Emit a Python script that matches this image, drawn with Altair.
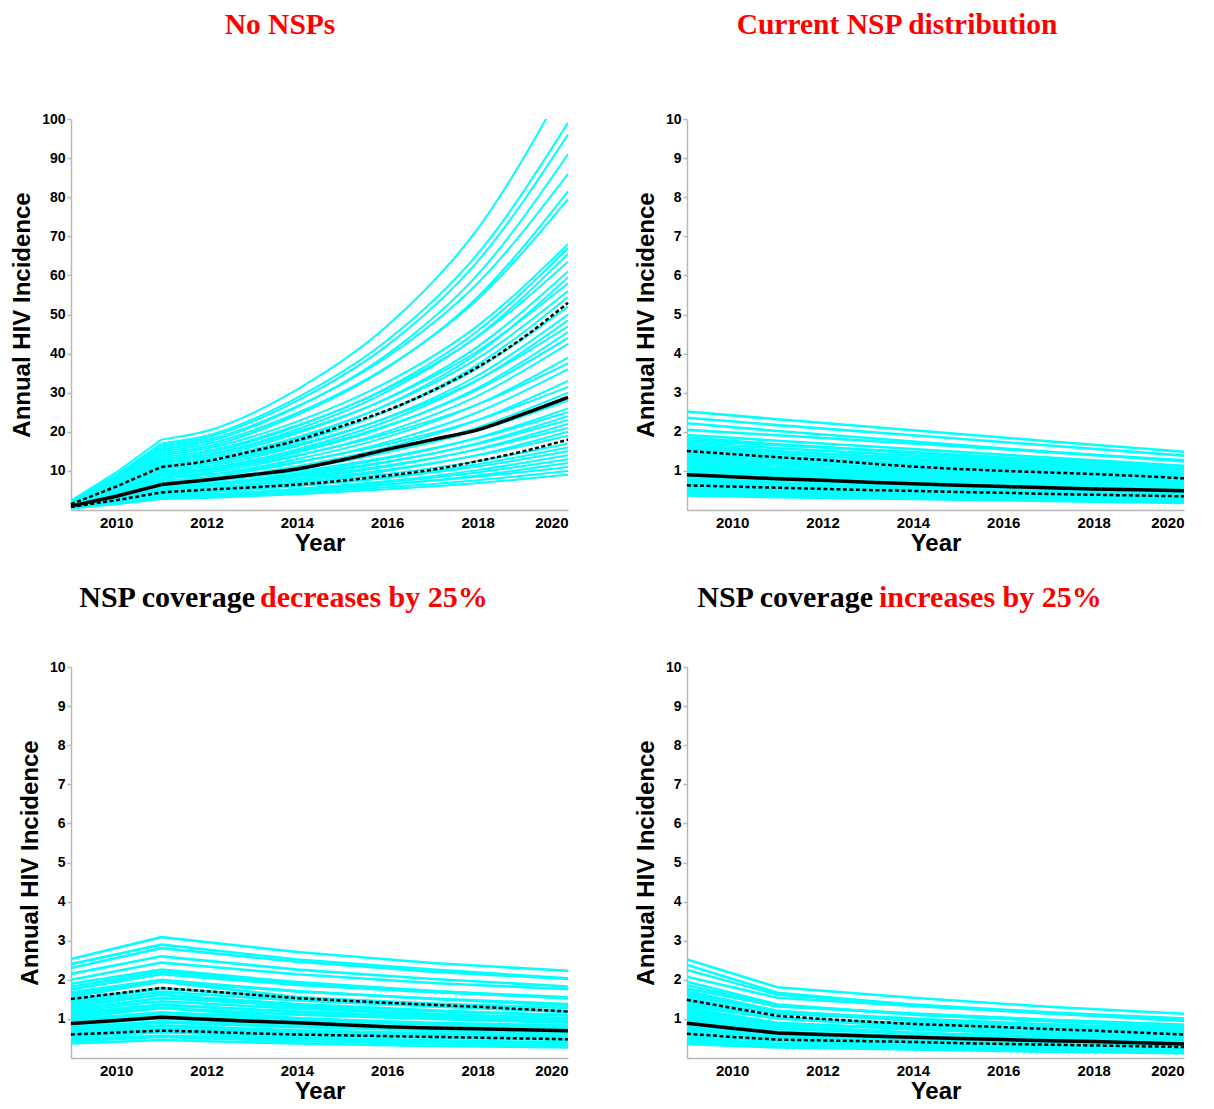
import altair as alt
import pandas as pd

# ---------------- data ----------------
YEARS_ANNUAL = list(range(2009, 2021))
YEARS_NO_NSP = [2009, 2010, 2011, 2012, 2014, 2016, 2018, 2020]
YEARS_SCEN = [2009, 2011, 2014, 2017, 2020]
KINK_YEAR = 2011

X_TICKS = [2010, 2012, 2014, 2016, 2018, 2020]
Y_TICKS_NO_NSP = [10, 20, 30, 40, 50, 60, 70, 80, 90, 100]
Y_TICKS_SCEN = [1, 2, 3, 4, 5, 6, 7, 8, 9, 10]

# "No NSPs" simulation runs, values at YEARS_NO_NSP
NO_NSP_RUNS = [
    [2.4, 9.6, 18.0, 20.2, 30.8, 47.1, 71.9, 110.0],
    [2.2, 9.0, 17.0, 19.0, 28.7, 43.4, 65.5, 99.0],
    [2.3, 8.8, 16.5, 18.5, 27.9, 42.1, 63.6, 96.0],
    [2.0, 8.2, 15.5, 17.4, 26.3, 39.8, 60.2, 91.0],
    [2.1, 8.5, 16.0, 17.9, 26.5, 39.2, 58.0, 86.0],
    [1.9, 7.7, 14.5, 16.2, 24.3, 36.4, 54.5, 81.5],
    [2.0, 8.0, 15.0, 16.8, 24.8, 36.6, 53.9, 79.5],
    [1.8, 7.4, 14.0, 15.7, 22.6, 32.7, 47.1, 68.0],
    [1.7, 6.9, 13.0, 14.6, 21.4, 31.3, 45.8, 67.0],
    [1.6, 6.6, 12.5, 14.0, 20.6, 30.3, 44.5, 65.5],
    [1.8, 7.2, 13.5, 15.1, 21.6, 31.0, 44.3, 63.5],
    [1.5, 6.3, 12.0, 13.4, 19.6, 28.6, 41.8, 61.0],
    [1.4, 5.8, 11.0, 12.3, 18.2, 27.0, 40.1, 59.5],
    [1.6, 6.6, 12.5, 14.0, 20.0, 28.5, 40.6, 58.0],
    [1.5, 6.1, 11.5, 12.9, 18.6, 26.9, 38.8, 56.0],
    [1.4, 5.6, 10.5, 11.8, 17.3, 25.4, 37.2, 54.5],
    [1.4, 5.8, 11.0, 12.3, 17.6, 25.3, 36.3, 52.0],
    [1.3, 5.3, 10.0, 11.2, 16.3, 23.7, 34.4, 50.0],
    [1.2, 5.0, 9.5, 10.6, 15.5, 22.7, 33.2, 48.5],
    [1.4, 5.6, 10.5, 11.8, 16.7, 23.6, 33.3, 47.0],
    [1.2, 4.8, 9.0, 10.1, 14.7, 21.4, 31.2, 45.5],
    [1.3, 5.1, 9.5, 10.6, 15.1, 21.6, 30.8, 44.0],
    [1.1, 4.5, 8.5, 9.5, 13.8, 20.1, 29.2, 42.5],
    [1.0, 4.2, 8.0, 9.0, 13.0, 18.7, 27.0, 39.0],
    [1.2, 4.8, 9.0, 10.1, 14.0, 19.5, 27.0, 37.5],
    [1.0, 4.0, 7.5, 8.4, 12.1, 17.4, 25.0, 36.0],
    [0.9, 3.7, 7.0, 7.8, 11.2, 16.0, 23.0, 33.0],
    [1.1, 4.3, 8.0, 9.0, 12.3, 16.8, 23.0, 31.5],
    [0.9, 3.5, 6.5, 7.3, 10.4, 14.8, 21.1, 30.0],
    [0.9, 3.7, 7.0, 7.8, 10.7, 14.8, 20.3, 28.0],
    [0.8, 3.2, 6.0, 6.7, 9.4, 13.2, 18.5, 26.0],
    [0.9, 3.5, 6.5, 7.3, 9.9, 13.5, 18.4, 25.0],
    [0.8, 3.0, 5.5, 6.2, 8.7, 12.2, 17.1, 24.0],
    [0.8, 3.2, 6.0, 6.7, 9.1, 12.4, 16.9, 23.0],
    [0.7, 2.7, 5.0, 5.6, 7.9, 11.1, 15.6, 22.0],
    [0.8, 3.0, 5.5, 6.2, 8.4, 11.4, 15.5, 21.0],
    [0.7, 2.4, 4.5, 5.0, 7.1, 10.0, 14.1, 20.0],
    [0.7, 2.7, 5.0, 5.6, 7.6, 10.3, 14.0, 19.0],
    [0.6, 2.4, 4.5, 5.0, 6.8, 9.2, 12.5, 17.0],
    [0.6, 2.2, 4.0, 4.5, 6.2, 8.5, 11.7, 16.0],
    [0.6, 2.2, 4.0, 4.5, 6.1, 8.2, 11.1, 15.0],
    [0.5, 1.9, 3.5, 3.9, 5.4, 7.4, 10.2, 14.0],
    [0.5, 1.9, 3.5, 3.9, 5.3, 7.1, 9.6, 13.0],
    [0.5, 1.7, 3.0, 3.4, 4.7, 6.4, 8.8, 12.0],
    [0.5, 1.9, 3.5, 3.9, 5.1, 6.6, 8.5, 11.0],
    [0.4, 1.6, 3.0, 3.4, 4.5, 5.8, 7.6, 10.0],
    [0.4, 1.5, 2.8, 3.1, 4.0, 5.3, 6.9, 9.0],
]
NO_NSP_MEDIAN = [1.0, 3.5, 6.5, 7.7, 9.0, 10.5, 12.8, 15.5, 18.0, 20.5, 24.5, 28.8]
NO_NSP_UPPER = [1.5, 6.0, 11.0, 12.5, 15.0, 17.8, 21.5, 25.5, 30.5, 36.5, 44.0, 53.0]
NO_NSP_LOWER = [0.8, 2.5, 4.5, 5.2, 5.8, 6.5, 7.5, 8.8, 10.3, 12.5, 15.0, 18.0]

# "Current NSP distribution" runs, values at YEARS_SCEN
CURRENT_RUNS = [
    [2.52, 2.32, 2.04, 1.76, 1.49], [2.36, 2.17, 1.91, 1.65, 1.39],
    [2.22, 2.02, 1.75, 1.49, 1.24], [2.05, 1.91, 1.70, 1.48, 1.27],
    [1.92, 1.77, 1.56, 1.34, 1.13], [1.85, 1.68, 1.46, 1.24, 1.04],
    [1.78, 1.66, 1.48, 1.28, 1.10], [1.72, 1.58, 1.39, 1.20, 1.01],
    [1.66, 1.51, 1.31, 1.11, 0.93], [1.60, 1.49, 1.33, 1.15, 0.99],
    [1.55, 1.43, 1.26, 1.09, 0.91], [1.49, 1.36, 1.18, 1.00, 0.83],
    [1.44, 1.34, 1.20, 1.04, 0.89], [1.39, 1.28, 1.13, 0.97, 0.82],
    [1.34, 1.22, 1.06, 0.90, 0.75], [1.29, 1.20, 1.07, 0.93, 0.80],
    [1.24, 1.14, 1.00, 0.87, 0.73], [1.19, 1.08, 0.94, 0.80, 0.67],
    [1.14, 1.06, 0.95, 0.82, 0.71], [1.10, 1.01, 0.89, 0.77, 0.65],
    [1.05, 0.96, 0.83, 0.70, 0.59], [1.01, 0.94, 0.84, 0.73, 0.63],
    [0.97, 0.89, 0.79, 0.68, 0.57], [0.93, 0.85, 0.73, 0.62, 0.52],
    [0.89, 0.83, 0.74, 0.64, 0.55], [0.85, 0.78, 0.69, 0.60, 0.50],
    [0.81, 0.74, 0.64, 0.54, 0.45], [0.77, 0.69, 0.59, 0.49, 0.39],
    [0.73, 0.67, 0.59, 0.51, 0.43], [0.69, 0.63, 0.55, 0.46, 0.39],
    [0.65, 0.59, 0.49, 0.41, 0.33], [0.61, 0.56, 0.49, 0.43, 0.36],
    [0.57, 0.52, 0.45, 0.38, 0.32], [0.52, 0.47, 0.40, 0.33, 0.26],
    [0.47, 0.43, 0.37, 0.31, 0.26], [0.42, 0.38, 0.32, 0.26, 0.21],
    [0.37, 0.33, 0.28, 0.23, 0.18],
]
CURRENT_MEDIAN = [0.90, 0.85, 0.80, 0.76, 0.71, 0.67, 0.63, 0.60, 0.57, 0.54, 0.52, 0.49]
CURRENT_UPPER = [1.51, 1.43, 1.35, 1.28, 1.19, 1.11, 1.05, 1.00, 0.96, 0.92, 0.87, 0.81]
CURRENT_LOWER = [0.63, 0.60, 0.57, 0.54, 0.51, 0.49, 0.46, 0.44, 0.41, 0.39, 0.37, 0.35]

# "NSP coverage decreases by 25%" runs
DECREASE_RUNS = [
    [2.53, 3.09, 2.71, 2.43, 2.23], [2.40, 2.90, 2.52, 2.26, 2.04],
    [2.30, 2.81, 2.46, 2.21, 2.02], [2.15, 2.60, 2.26, 2.02, 1.83],
    [2.00, 2.44, 2.14, 1.92, 1.76], [1.90, 2.26, 1.94, 1.71, 1.52],
    [1.82, 2.20, 1.91, 1.71, 1.55], [1.75, 2.14, 1.87, 1.68, 1.54],
    [1.68, 2.00, 1.71, 1.51, 1.34], [1.62, 1.96, 1.70, 1.52, 1.38],
    [1.56, 1.95, 1.56, 1.33, 1.17], [1.50, 1.79, 1.53, 1.35, 1.20],
    [1.45, 1.77, 1.55, 1.39, 1.28], [1.40, 1.69, 1.47, 1.32, 1.19],
    [1.35, 1.61, 1.38, 1.22, 1.08], [1.30, 1.63, 1.30, 1.11, 0.98],
    [1.25, 1.53, 1.34, 1.20, 1.10], [1.20, 1.45, 1.26, 1.13, 1.02],
    [1.15, 1.37, 1.17, 1.04, 0.92], [1.11, 1.35, 1.19, 1.07, 0.98],
    [1.06, 1.28, 1.11, 1.00, 0.90], [1.02, 1.28, 1.02, 0.87, 0.77],
    [0.98, 1.17, 1.00, 0.88, 0.78], [0.94, 1.15, 1.01, 0.90, 0.83],
    [0.90, 1.09, 0.95, 0.85, 0.77], [0.86, 1.02, 0.88, 0.77, 0.69],
    [0.82, 1.03, 0.82, 0.70, 0.62], [0.78, 0.94, 0.82, 0.73, 0.66],
    [0.74, 0.90, 0.79, 0.71, 0.65], [0.70, 0.83, 0.71, 0.63, 0.56],
    [0.66, 0.83, 0.66, 0.56, 0.50], [0.62, 0.75, 0.65, 0.58, 0.53],
    [0.58, 0.69, 0.59, 0.52, 0.46], [0.53, 0.66, 0.53, 0.45, 0.40],
    [0.48, 0.57, 0.49, 0.43, 0.38], [0.43, 0.54, 0.43, 0.37, 0.32],
    [0.37, 0.46, 0.37, 0.31, 0.27],
]
DECREASE_MEDIAN = [0.88, 0.96, 1.04, 0.99, 0.94, 0.90, 0.85, 0.80, 0.77, 0.75, 0.72, 0.70]
DECREASE_UPPER = [1.51, 1.65, 1.79, 1.71, 1.62, 1.53, 1.47, 1.41, 1.36, 1.31, 1.25, 1.19]
DECREASE_LOWER = [0.60, 0.65, 0.70, 0.67, 0.63, 0.60, 0.58, 0.56, 0.54, 0.52, 0.50, 0.48]

# "NSP coverage increases by 25%" runs
INCREASE_RUNS = [
    [2.52, 1.81, 1.54, 1.31, 1.13], [2.38, 1.67, 1.36, 1.14, 0.95],
    [2.25, 1.62, 1.37, 1.17, 1.01], [2.08, 1.54, 1.33, 1.14, 1.00],
    [1.95, 1.37, 1.11, 0.94, 0.78], [1.86, 1.34, 1.13, 0.97, 0.84],
    [1.78, 1.32, 1.14, 0.98, 0.85], [1.71, 1.20, 0.97, 0.82, 0.68],
    [1.65, 1.19, 1.01, 0.86, 0.74], [1.59, 1.21, 0.95, 0.72, 0.52],
    [1.53, 1.13, 0.98, 0.84, 0.73], [1.48, 1.04, 0.84, 0.71, 0.59],
    [1.43, 1.03, 0.87, 0.74, 0.64], [1.38, 1.02, 0.88, 0.76, 0.66],
    [1.33, 1.01, 0.80, 0.60, 0.44], [1.28, 0.90, 0.73, 0.61, 0.51],
    [1.23, 0.89, 0.75, 0.64, 0.55], [1.18, 0.87, 0.76, 0.65, 0.57],
    [1.13, 0.79, 0.64, 0.54, 0.45], [1.09, 0.83, 0.65, 0.49, 0.36],
    [1.04, 0.75, 0.63, 0.54, 0.47], [1.00, 0.74, 0.64, 0.55, 0.48],
    [0.96, 0.67, 0.55, 0.46, 0.38], [0.92, 0.66, 0.56, 0.48, 0.41],
    [0.88, 0.67, 0.53, 0.40, 0.29], [0.84, 0.62, 0.54, 0.46, 0.40],
    [0.80, 0.56, 0.46, 0.38, 0.32], [0.76, 0.55, 0.46, 0.40, 0.34],
    [0.72, 0.55, 0.43, 0.32, 0.24], [0.68, 0.50, 0.44, 0.37, 0.33],
    [0.64, 0.45, 0.36, 0.31, 0.26], [0.60, 0.43, 0.37, 0.31, 0.27],
    [0.56, 0.43, 0.34, 0.25, 0.18], [0.51, 0.36, 0.29, 0.24, 0.20],
    [0.46, 0.35, 0.28, 0.21, 0.15], [0.41, 0.29, 0.23, 0.20, 0.16],
    [0.36, 0.27, 0.22, 0.16, 0.12],
]
INCREASE_MEDIAN = [0.89, 0.76, 0.64, 0.60, 0.56, 0.53, 0.50, 0.47, 0.44, 0.42, 0.39, 0.36]
INCREASE_UPPER = [1.49, 1.28, 1.08, 1.00, 0.93, 0.87, 0.83, 0.79, 0.74, 0.70, 0.65, 0.60]
INCREASE_LOWER = [0.62, 0.54, 0.47, 0.45, 0.43, 0.41, 0.38, 0.36, 0.34, 0.32, 0.30, 0.28]

CYAN = "#00FFFF"
RED = "#FF0000"
PLOT_W, PLOT_H = 497, 391


def runs_frame(runs, years):
    rows = []
    for i, run in enumerate(runs):
        for yr, v in zip(years, run):
            rows.append({"run": i, "year": yr, "value": v})
    return pd.DataFrame(rows)


def stats_frame(median, upper, lower):
    rows = []
    for name, vals in (("median", median), ("upper", upper), ("lower", lower)):
        for yr, v in zip(YEARS_ANNUAL, vals):
            rows.append({"stat": name, "year": yr, "value": v})
    return pd.DataFrame(rows)


def panel(runs, years, median, upper, lower, ymax, yticks, title_parts, title_y,
          smooth, run_width, title_size):
    x = alt.X(
        "year:Q",
        scale=alt.Scale(domain=[2009, 2020], nice=False, zero=False),
        axis=alt.Axis(values=X_TICKS, format="d", title="Year", ticks=False,
                      labelPadding=5, titlePadding=1, labelFontSize=15),
    )
    y = alt.Y(
        "value:Q",
        scale=alt.Scale(domain=[0, ymax], nice=False),
        axis=alt.Axis(values=yticks, title="Annual HIV Incidence", tickSize=4,
                      labelPadding=2, titlePadding=7, labelFontSize=14),
    )
    rdf = runs_frame(runs, years)
    sdf = stats_frame(median, upper, lower)

    # segments: before the 2011 kink drawn straight, after it smoothed (if smooth)
    if smooth:
        segments = [(f"datum.year <= {KINK_YEAR}", "linear"),
                    (f"datum.year >= {KINK_YEAR}", "monotone")]
    else:
        segments = [("true", "linear")]

    cyan_layers, dash_layers, solid_layers = [], [], []
    for flt, interp in segments:
        cyan_layers.append(
            alt.Chart(rdf).transform_filter(flt).mark_line(
                color=CYAN, strokeWidth=run_width, interpolate=interp, clip=True
            ).encode(x=x, y=y, detail="run:N")
        )
        dash_layers.append(
            alt.Chart(sdf).transform_filter(flt).transform_filter(
                "datum.stat != 'median'"
            ).mark_line(
                color="black", strokeWidth=2.5, strokeDash=[4, 2.5], interpolate=interp
            ).encode(x=x, y=y, detail="stat:N")
        )
        solid_layers.append(
            alt.Chart(sdf).transform_filter(flt).transform_filter(
                "datum.stat == 'median'"
            ).mark_line(
                color="black", strokeWidth=3.5, interpolate=interp
            ).encode(x=x, y=y)
        )
    layers = cyan_layers + dash_layers + solid_layers
    for text, color, xpos, align in title_parts:
        layers.append(
            alt.Chart(pd.DataFrame({"t": [text]})).mark_text(
                font="Liberation Serif", fontSize=title_size, fontWeight="bold",
                color=color, align=align, baseline="alphabetic",
            ).encode(x=alt.value(xpos), y=alt.value(title_y), text="t:N")
        )
    return alt.layer(*layers).properties(width=PLOT_W, height=PLOT_H)


p1 = panel(NO_NSP_RUNS, YEARS_NO_NSP, NO_NSP_MEDIAN, NO_NSP_UPPER, NO_NSP_LOWER,
           100, Y_TICKS_NO_NSP, [("No NSPs", RED, 209, "center")], -85,
           True, 2, 29.5)
p2 = panel(CURRENT_RUNS, YEARS_SCEN, CURRENT_MEDIAN, CURRENT_UPPER, CURRENT_LOWER,
           10, Y_TICKS_SCEN, [("Current NSP distribution", RED, 210, "center")], -85,
           False, 2.6, 29.5)
p3 = panel(DECREASE_RUNS, YEARS_SCEN, DECREASE_MEDIAN, DECREASE_UPPER, DECREASE_LOWER,
           10, Y_TICKS_SCEN,
           [("NSP coverage", "black", 184, "right"), ("decreases by 25%", RED, 189, "left")],
           -60, False, 2.6, 30)
p4 = panel(INCREASE_RUNS, YEARS_SCEN, INCREASE_MEDIAN, INCREASE_UPPER, INCREASE_LOWER,
           10, Y_TICKS_SCEN,
           [("NSP coverage", "black", 186, "right"), ("increases by 25%", RED, 192, "left")],
           -60, False, 2.6, 30)

chart = alt.concat(
    p1, p2, p3, p4, columns=2,
    spacing={"row": 157, "column": 119}, bounds="flush",
).properties(
    padding={"left": 2, "top": 2, "right": 5, "bottom": 5}
).configure_view(stroke=None).configure_axis(
    grid=False,
    domainColor="#b8b8b8", domainWidth=1.5, tickColor="#b8b8b8", tickWidth=1.5,
    labelFont="Liberation Sans", labelFontWeight="bold", labelColor="black",
    titleFont="Liberation Sans", titleFontWeight="bold", titleFontSize=24, titleColor="black",
)

chart.save("out.html", embed_options={"renderer": "svg", "actions": False})
